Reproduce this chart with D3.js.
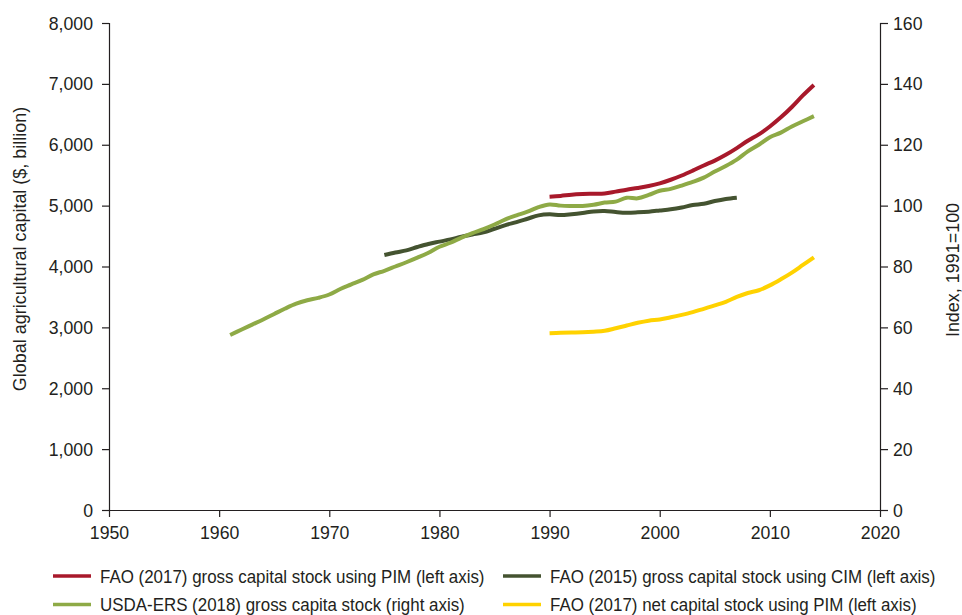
<!DOCTYPE html>
<html>
<head>
<meta charset="utf-8">
<script src="https://cdn.jsdelivr.net/npm/d3@7"></script>
<style>
  html, body { margin: 0; padding: 0; background: #fff; }
  svg text { font-family: "Liberation Sans", Arial, sans-serif; fill: #231f20; }
</style>
</head>
<body>
<svg id="chart" width="962" height="615"></svg>
<script>
// FAO (2017) gross capital stock, perpetual inventory method ($ billion)
const pimYears = d3.range(1990, 2015);
const pimGross = [5147, 5160, 5180, 5190, 5195, 5200, 5230, 5262, 5290, 5322, 5365, 5425, 5495,
                  5575, 5660, 5740, 5835, 5945, 6065, 6170, 6300, 6450, 6620, 6810, 6982];

// FAO (2017) net capital stock, perpetual inventory method ($ billion)
const pimNet = [2903, 2910, 2915, 2920, 2930, 2945, 2985, 3030, 3075, 3110, 3130, 3165, 3205,
                3250, 3305, 3360, 3420, 3500, 3565, 3610, 3690, 3790, 3900, 4025, 4150];

// FAO (2015) gross capital stock, current inventory method ($ billion)
const cimYears = d3.range(1975, 2008);
const cimGross = [4189, 4230, 4265, 4320, 4370, 4408, 4445, 4490, 4525, 4560, 4620, 4680, 4730,
                  4785, 4840, 4857, 4846, 4860, 4880, 4905, 4912, 4895, 4884, 4890, 4901, 4920,
                  4940, 4970, 5010, 5030, 5075, 5110, 5131];

// USDA-ERS (2018) gross capital stock, index 1991 = 100
const usdaYears = d3.range(1961, 2015);
const usdaIndex = [57.5, 59.2, 60.9, 62.6, 64.4, 66.2, 67.8, 68.9, 69.7, 70.8, 72.6, 74.1, 75.6,
                   77.4, 78.6, 80.0, 81.4, 82.9, 84.5, 86.5, 87.8, 89.5, 91.0, 92.3, 93.8, 95.5,
                   96.8, 98.0, 99.5, 100.4, 100.0, 99.9, 99.9, 100.3, 101.0, 101.3, 102.6, 102.4,
                   103.5, 104.9, 105.5, 106.6, 107.8, 109.2, 111.2, 113.0, 115.1, 117.8, 120.0,
                   122.5, 124.0, 126.0, 127.7, 129.4];

// Axis ticks
const xTicks = [1950, 1960, 1970, 1980, 1990, 2000, 2010, 2020];
const leftTicks = [0, 1000, 2000, 3000, 4000, 5000, 6000, 7000, 8000];
const rightTicks = [0, 20, 40, 60, 80, 100, 120, 140, 160];

const seriesInfo = [
  { name: "FAO (2017) gross capital stock using PIM (left axis)", color: "#a8192b", years: pimYears, values: pimGross, axis: "left" },
  { name: "FAO (2015) gross capital stock using CIM (left axis)", color: "#445330", years: cimYears, values: cimGross, axis: "left" },
  { name: "USDA-ERS (2018) gross capita stock (right axis)", color: "#8eaa46", years: usdaYears, values: usdaIndex, axis: "right" },
  { name: "FAO (2017) net capital stock using PIM (left axis)", color: "#ffd200", years: pimYears, values: pimNet, axis: "left" }
];

const svg = d3.select("#chart");
const m = { left: 109, right: 880, top: 23, bottom: 510 };

const x = d3.scaleLinear().domain([1950, 2020]).range([m.left, m.right]);
const yL = d3.scaleLinear().domain([0, 8000]).range([m.bottom, m.top]);
const yR = d3.scaleLinear().domain([0, 160]).range([m.bottom, m.top]);

// Narrow the glyphs horizontally to get a condensed face
function condense(sel, factor) {
  sel.each(function () {
    const w = this.getComputedTextLength();
    this.setAttribute("textLength", (w * factor).toFixed(2));
    this.setAttribute("lengthAdjust", "spacingAndGlyphs");
  });
}

const tickFont = 19;
const labelFont = 18.5;

// Bottom axis
const gx = svg.append("g").attr("transform", `translate(0,${m.bottom})`)
  .call(d3.axisBottom(x).tickValues(xTicks).tickFormat(d3.format("d")).tickSize(7).tickPadding(9));
// Left axis
const gl = svg.append("g").attr("transform", `translate(${m.left},0)`)
  .call(d3.axisLeft(yL).tickValues(leftTicks).tickFormat(d3.format(",")).tickSize(7).tickPadding(9));
// Right axis
const gr = svg.append("g").attr("transform", `translate(${m.right},0)`)
  .call(d3.axisRight(yR).tickValues(rightTicks).tickFormat(d3.format("d")).tickSize(8).tickPadding(5));

[gx, gl, gr].forEach(g => {
  g.attr("font-family", null).attr("font-size", null);
  g.select(".domain").attr("stroke", "#231f20").attr("stroke-width", 1.2);
  g.selectAll(".tick line").attr("stroke", "#231f20").attr("stroke-width", 1.2);
  const t = g.selectAll(".tick text").attr("font-size", tickFont).attr("fill", "#231f20");
  condense(t, 0.93);
});
// baseline spans the gap between the two vertical axes
gx.select(".domain").attr("d", `M${m.left},0.5H${m.right}`);

// Axis titles
const tl = svg.append("text")
  .attr("transform", `translate(26,249) rotate(-90)`)
  .attr("text-anchor", "middle")
  .attr("font-size", labelFont)
  .text("Global agricultural capital ($, billion)");
condense(tl, 0.97);

const tr = svg.append("text")
  .attr("transform", `translate(959,270) rotate(-90)`)
  .attr("text-anchor", "middle")
  .attr("font-size", labelFont)
  .text("Index, 1991=100");
condense(tr, 0.97);

// Series lines
const drawOrder = [3, 1, 2, 0];
drawOrder.forEach(i => {
  const s = seriesInfo[i];
  const yScale = s.axis === "left" ? yL : yR;
  const line = d3.line()
    .x((d, j) => x(s.years[j]))
    .y(d => yScale(d))
    .curve(d3.curveCatmullRom.alpha(0.5));
  svg.append("path")
    .datum(s.values)
    .attr("fill", "none")
    .attr("stroke", s.color)
    .attr("stroke-width", 4)
    .attr("stroke-linejoin", "round")
    .attr("d", line);
});

// Legend, two columns; labels squeezed horizontally with a scale transform
const legendPos = [
  { x: 53, y: 576 }, { x: 503, y: 576 },
  { x: 53, y: 604.5 }, { x: 503, y: 604.5 }
];
seriesInfo.forEach((s, k) => {
  const p = legendPos[k];
  const g = svg.append("g").attr("transform", `translate(${p.x},${p.y})`);
  g.append("line").attr("x1", 0).attr("x2", 38).attr("y1", 0).attr("y2", 0)
    .attr("stroke", s.color).attr("stroke-width", 3.5);
  g.append("g").attr("transform", "translate(47,0) scale(0.915,1)")
    .append("text").attr("x", 0).attr("y", 0).attr("dy", "0.36em")
    .attr("font-size", labelFont).text(s.name);
});
</script>
</body>
</html>
